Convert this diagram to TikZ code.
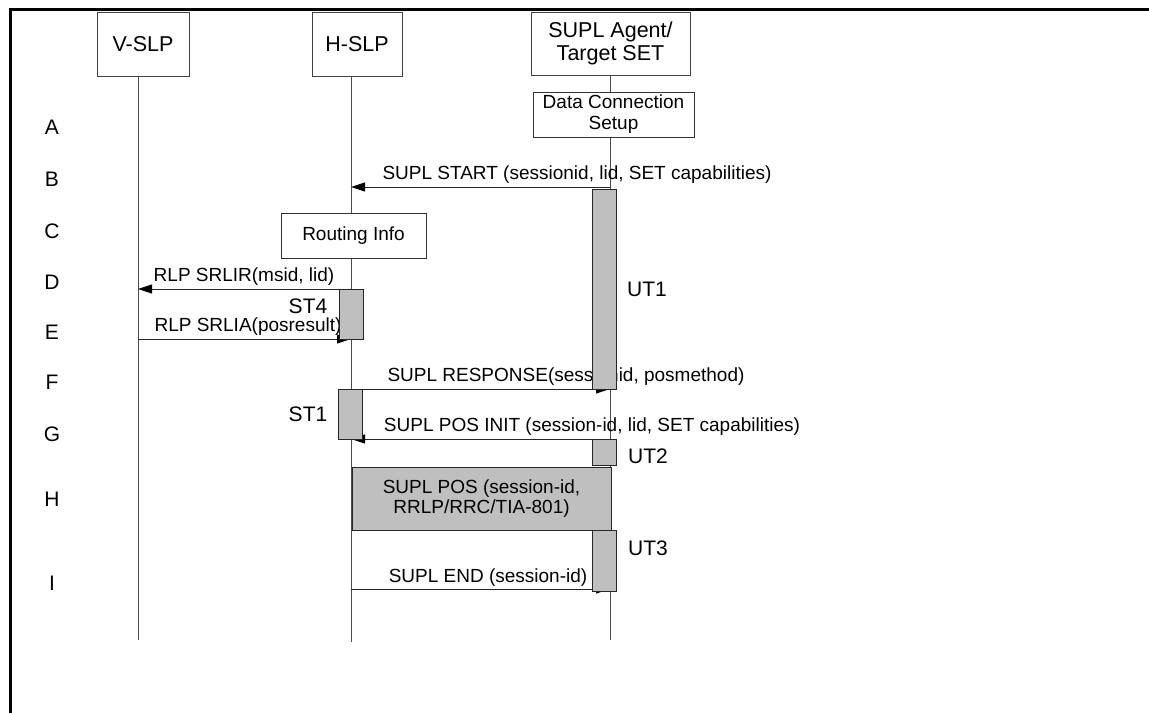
\documentclass[tikz,border=0pt]{standalone}
\usepackage{fontspec}
\setmainfont{Liberation Sans}
\usetikzlibrary{arrows.meta}
\begin{document}
\begin{tikzpicture}[x=1pt,y=-1pt,
  hdr/.style={draw=black!75, fill=white, line width=0.9pt, inner sep=0pt, align=center, font=\fontsize{21.5}{23.5}\selectfont},
  infobox/.style={draw=black!80, fill=white, line width=0.9pt, inner sep=0pt, align=center, font=\fontsize{19}{21}\selectfont},
  actbox/.style={draw=black!85, fill=black!25, line width=0.9pt, inner sep=0pt, minimum width=24pt},
  life/.style={draw=black!70, line width=0.9pt},
  msg/.style={draw=black!85, line width=0.9pt, -{Triangle[length=14pt,width=9pt,color=black]}},
  lbl/.style={font=\fontsize{19}{21}\selectfont, inner sep=0pt, anchor=base},
  biglbl/.style={font=\fontsize{21}{23}\selectfont, inner sep=0pt},
  rowlbl/.style={font=\fontsize{21}{23}\selectfont, inner sep=0pt},
]
\useasboundingbox (0,0) rectangle (1149,713);
% frame
\draw[line width=3pt] (10.5,713) -- (10.5,9) -- (1149,9);

% header boxes
\node[hdr, minimum width=92pt, minimum height=64pt] (vslp) at (143,44) {V-SLP};
\node[hdr, minimum width=90pt, minimum height=64pt] (hslp) at (357,44) {H-SLP};
\node[hdr, minimum width=159pt, minimum height=63pt] (agent) at (610.5,43.5) {SUPL Agent/\\Target SET};

% lifeline ends
\coordinate (vend) at (138,640);
\coordinate (hend) at (351,642);
\coordinate (aend) at (610,640);

% row coordinates
\coordinate (rB) at (0,187);
\coordinate (rD) at (0,289);
\coordinate (rE) at (0,339);
\coordinate (rF) at (0,389);
\coordinate (rG) at (0,439);
\coordinate (rI) at (0,589);

% lifelines
\draw[life] (vslp.south -| vend) -- (vend);
\draw[life] (hslp.south -| hend) -- (hend);
\draw[life] (agent.south -| aend) -- (aend);

% boxes on lifelines
\node[infobox, minimum width=161pt, minimum height=45pt] (dcs) at (613.5,114.5) {Data Connection\\Setup};
\node[infobox, minimum width=145pt, minimum height=45pt] (route) at (353.5,235.5) {Routing Info};

% messages
\draw[msg] (aend |- rB) -- (hend |- rB);
\draw[msg] (hend |- rD) -- (vend |- rD);
\draw[msg] (vend |- rE) -- (hend |- rE);
\draw[msg] (hend |- rF) -- (aend |- rF);
\draw[msg] (aend |- rG) -- (hend |- rG);
\draw[msg] (hend |- rI) -- (aend |- rI);

% message labels
\node[lbl] (lB) at (577,179.5) {SUPL START (sessionid, lid, SET capabilities)};
\node[lbl] (lD) at (244,281.5) {RLP SRLIR(msid, lid)};
\node[lbl] (lE) at (248,331) {RLP SRLIA(posresult)};
\node[lbl] (lF) at (566,381) {SUPL RESPONSE(sessionid, posmethod)};
\node[lbl] (lG) at (592,431) {SUPL POS INIT (session-id, lid, SET capabilities)};
\node[lbl] (lI) at (488,582) {SUPL END (session-id)};

% activation boxes
\node[actbox, minimum height=200pt] (ut1) at (604,289) {};
\node[actbox, minimum height=50pt] (st4) at (351,314) {};
\node[actbox, minimum height=50pt] (st1) at (350.5,414) {};
\node[actbox, minimum height=26pt] (ut2) at (604,452) {};
\node[actbox, minimum height=61pt] (ut3) at (604,560.5) {};
\node[actbox, minimum width=259pt, minimum height=63pt, align=center, font=\fontsize{19}{20.5}\selectfont] (pos) at (481.5,498.5) {SUPL POS (session-id,\\RRLP/RRC/TIA-801)};

% timer labels
\node[biglbl] (tST4) at (308,306) {ST4};
\node[biglbl] (tST1) at (308,414) {ST1};
\node[biglbl] (tUT1) at (647,289) {UT1};
\node[biglbl] (tUT2) at (648,456) {UT2};
\node[biglbl] (tUT3) at (648,548) {UT3};

% row letters
\node[rowlbl] (A) at (52,127) {A};
\node[rowlbl] (B) at (52,179) {B};
\node[rowlbl] (C) at (52,231) {C};
\node[rowlbl] (D) at (52,282) {D};
\node[rowlbl] (E) at (52,332) {E};
\node[rowlbl] (F) at (52,382) {F};
\node[rowlbl] (G) at (52,434) {G};
\node[rowlbl] (H) at (52,499) {H};
\node[rowlbl] (I) at (52,583) {I};
\end{tikzpicture}
\end{document}
